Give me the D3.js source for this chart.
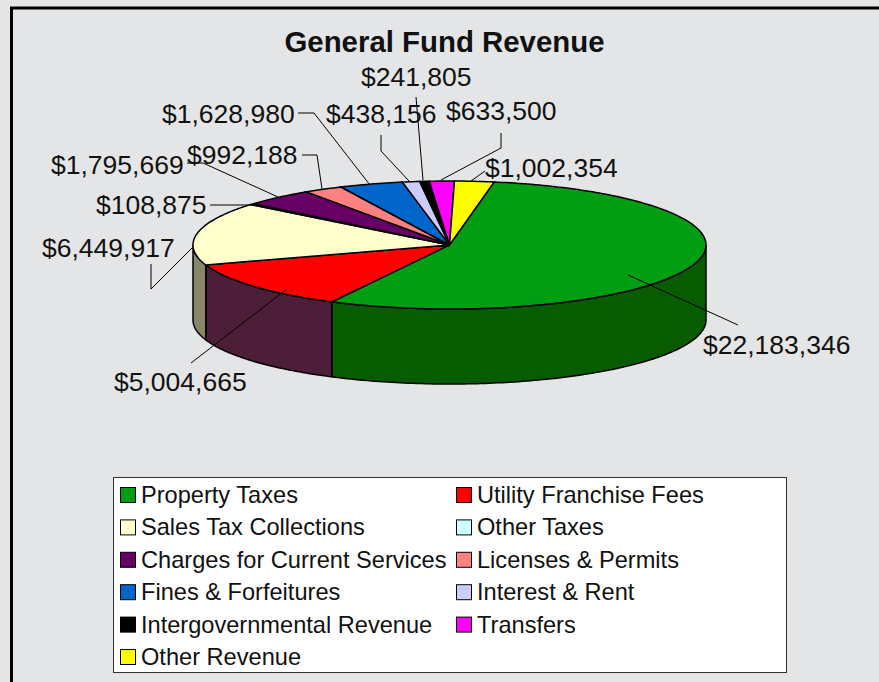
<!DOCTYPE html>
<html>
<head>
<meta charset="utf-8">
<script src="https://cdn.jsdelivr.net/npm/d3@7"></script>
<style>
  html, body { margin: 0; padding: 0; background: #fff; overflow: hidden; }
  text { font-family: "Liberation Sans", Arial, sans-serif; fill: #111; }
</style>
</head>
<body>
<div id="chart"></div>
<script>
var categories = ["Property Taxes", "Utility Franchise Fees", "Sales Tax Collections", "Other Taxes",
  "Charges for Current Services", "Licenses & Permits", "Fines & Forfeitures", "Interest & Rent",
  "Intergovernmental Revenue", "Transfers", "Other Revenue"];
var values = [22183346, 5004665, 6449917, 108875, 1795669, 992188, 1628980, 438156, 241805, 633500, 1002354];
var colors = ["#009e12", "#ff0000", "#ffffcc", "#ccffff", "#660066", "#ff8080", "#0066cc",
  "#ccccff", "#000000", "#ff00ff", "#ffff00"];
var wallColors = ["#075c00", "#4d1e38", "#87876b"];

var width = 879, height = 682;
var cx = 449.5, cy = 245, rx = 256.5, ry = 64, depth = 75;

var svg = d3.select("#chart").append("svg")
  .attr("width", width)
  .attr("height", height)
  .style("display", "block");

svg.append("rect").attr("width", width).attr("height", height).attr("fill", "#e4e5e7");
// black frame, right side runs off the picture
svg.append("path").attr("d", "M11.5,682V8H879").attr("fill", "none").attr("stroke", "#000").attr("stroke-width", 3);

svg.append("text").attr("x", 444.5).attr("y", 52).attr("text-anchor", "middle")
  .style("font-weight", "bold").style("font-size", "29.4px").text("General Fund Revenue");

var pie = d3.pie().sort(null).startAngle(0.175).endAngle(0.175 + 2 * Math.PI);
var slices = pie(values);

function px(a) { return cx + rx * Math.sin(a); }
function py(a) { return cy - ry * Math.cos(a); }
var line = d3.line();

function arcPoints(a0, a1, dy) {
  var n = Math.max(2, Math.ceil((a1 - a0) * 60)), pts = [];
  for (var i = 0; i <= n; i++) {
    var a = a0 + (a1 - a0) * i / n;
    pts.push([px(a), py(a) + dy]);
  }
  return pts;
}

// walls, only the front half of the ellipse
slices.forEach(function(s, i) {
  var a0 = Math.max(s.startAngle, Math.PI / 2), a1 = Math.min(s.endAngle, 3 * Math.PI / 2);
  if (a1 <= a0) return;
  var pts = arcPoints(a0, a1, 0).concat(arcPoints(a0, a1, depth).reverse());
  svg.append("path").attr("d", line(pts) + "Z")
    .attr("fill", wallColors[i]).attr("stroke", "#000").attr("stroke-width", 1.5);
});

// top faces
slices.forEach(function(s, i) {
  var pts = [[cx, cy]].concat(arcPoints(s.startAngle, s.endAngle, 0));
  svg.append("path").attr("d", line(pts) + "Z")
    .attr("fill", colors[i]).attr("stroke", "#000").attr("stroke-width", 1.5);
});

// label spots and leaders were placed by hand, same order as values
var labelSpots = [
  { x: 703, y: 354, path: "M628,275L738,325" },
  { x: 114, y: 391, path: "M287,289L191,363" },
  { x: 42, y: 257, path: "M192,248L151,289V264" },
  { x: 96, y: 214, path: "M253,205H210" },
  { x: 51, y: 174, path: "M278,197L203,163H187" },
  { x: 187, y: 164, path: "M322,189L317,155H302" },
  { x: 162, y: 123, path: "M370,185L314,113H298" },
  { x: 326, y: 123, path: "M409,181L381,151V135" },
  { x: 361, y: 86, path: "M423,180L416,97" },
  { x: 446, y: 120, path: "M441,180L501,148V133" },
  { x: 485, y: 177, path: "M471,181L485,171" }
];

var leaderG = svg.append("g").attr("fill", "none").attr("stroke", "#000").attr("stroke-width", 1);
var labelG = svg.append("g").style("font-size", "26.5px");
var money = d3.format("$,");
labelSpots.forEach(function(l, i) {
  leaderG.append("path").attr("d", l.path);
  labelG.append("text").attr("x", l.x).attr("y", l.y).text(money(values[i]));
});

// legend, two columns filled row by row
var legend = svg.append("g");
legend.append("rect").attr("x", 113.5).attr("y", 477.5).attr("width", 673).attr("height", 195)
  .attr("fill", "#fff").attr("stroke", "#333").attr("stroke-width", 1);

var colX = d3.scaleOrdinal().domain([0, 1]).range([120.5, 456.5]);
var rowY = d3.scaleLinear().domain([0, 5]).range([495, 657]);

categories.forEach(function(name, i) {
  var col = i % 2, row = Math.floor(i / 2);
  legend.append("rect")
    .attr("x", colX(col)).attr("y", rowY(row) - 7.5)
    .attr("width", 15).attr("height", 15)
    .attr("fill", colors[i]).attr("stroke", "#000").attr("stroke-width", 1);
  legend.append("text")
    .attr("x", colX(col) + 20.5).attr("y", rowY(row) + 8)
    .style("font-size", "23.6px").text(name);
});
</script>
</body>
</html>
